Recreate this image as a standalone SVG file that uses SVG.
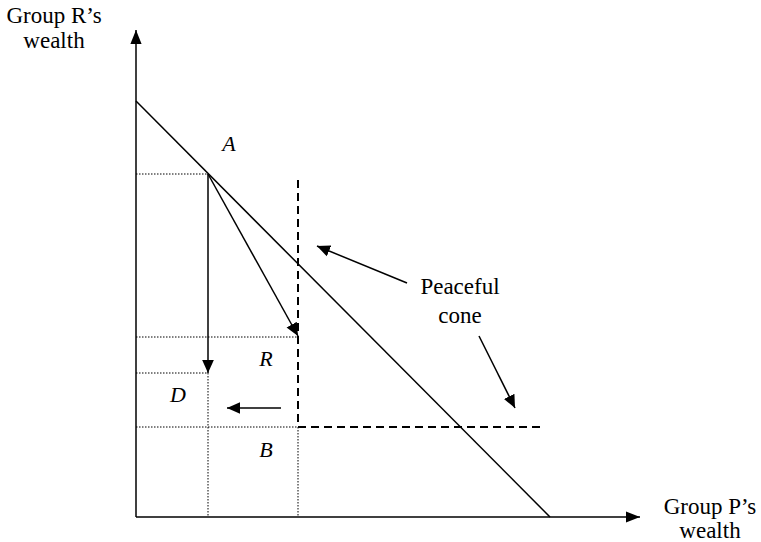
<svg xmlns="http://www.w3.org/2000/svg" width="761" height="542" viewBox="0 0 761 542">
<defs>
<marker id="ah" viewBox="0 0 10 10" refX="10" refY="5" markerWidth="13" markerHeight="13" markerUnits="userSpaceOnUse" orient="auto">
<path d="M0,0.5 L10,5 L0,9.5 Z" fill="#000"/>
</marker>
<marker id="ahs" viewBox="0 0 10 10" refX="10" refY="5" markerWidth="14" markerHeight="14" markerUnits="userSpaceOnUse" orient="auto">
<path d="M0,1 L10,5 L0,9 Z" fill="#000"/>
</marker>
</defs>
<style>
.t{font-family:"Liberation Serif","Times New Roman",serif;font-size:23px;fill:#000}
.i{font-family:"Liberation Serif","Times New Roman",serif;font-size:22px;font-style:italic;fill:#000}
.s{stroke:#000;stroke-width:1.5;fill:none}
.dot{stroke:#000;stroke-width:1;stroke-dasharray:1.5 1.5;fill:none}
.dash{stroke:#000;stroke-width:2;stroke-dasharray:8 5;fill:none}
</style>
<rect width="761" height="542" fill="#fff"/>
<g id="axes">
<line class="s" x1="136" y1="517" x2="136" y2="30" marker-end="url(#ahs)"/>
<line class="s" x1="136" y1="517" x2="640" y2="517" marker-end="url(#ahs)"/>
</g>
<g id="guides">
<line class="dot" x1="136" y1="174" x2="208" y2="174"/>
<line class="dot" x1="136" y1="337" x2="298" y2="337"/>
<line class="dot" x1="136" y1="373" x2="208" y2="373"/>
<line class="dot" x1="136" y1="427" x2="298" y2="427"/>
<line class="dot" x1="208" y1="373" x2="208" y2="517"/>
<line class="dot" x1="298" y1="427" x2="298" y2="517"/>
</g>
<g id="budget-line">
<line class="s" x1="136" y1="101" x2="550" y2="517"/>
</g>
<g id="peaceful-cone">
<polyline class="dash" points="298,180 298,427 545,427"/>
</g>
<g id="connectors">
<line class="s" x1="208" y1="174" x2="208" y2="373" marker-end="url(#ah)"/>
<line class="s" x1="208" y1="174" x2="298" y2="336" marker-end="url(#ah)"/>
<line class="s" x1="281" y1="408" x2="227" y2="408" marker-end="url(#ah)"/>
<line class="s" x1="407" y1="283" x2="317" y2="246" marker-end="url(#ah)"/>
<line class="s" x1="479" y1="336" x2="515" y2="408" marker-end="url(#ah)"/>
</g>
<g id="label-A"><text class="i" x="229" y="151" text-anchor="middle">A</text></g>
<g id="label-R"><text class="i" x="266" y="366" text-anchor="middle">R</text></g>
<g id="label-D"><text class="i" x="178" y="402" text-anchor="middle">D</text></g>
<g id="label-B"><text class="i" x="266" y="457" text-anchor="middle">B</text></g>
<g id="label-y">
<text class="t" x="54" y="23" text-anchor="middle">Group R’s</text>
<text class="t" x="54" y="48" text-anchor="middle">wealth</text>
</g>
<g id="label-x">
<text class="t" x="710" y="514" text-anchor="middle">Group P’s</text>
<text class="t" x="710" y="538" text-anchor="middle">wealth</text>
</g>
<g id="label-cone">
<text class="t" x="460" y="294" text-anchor="middle">Peaceful</text>
<text class="t" x="460" y="323" text-anchor="middle">cone</text>
</g>
</svg>
